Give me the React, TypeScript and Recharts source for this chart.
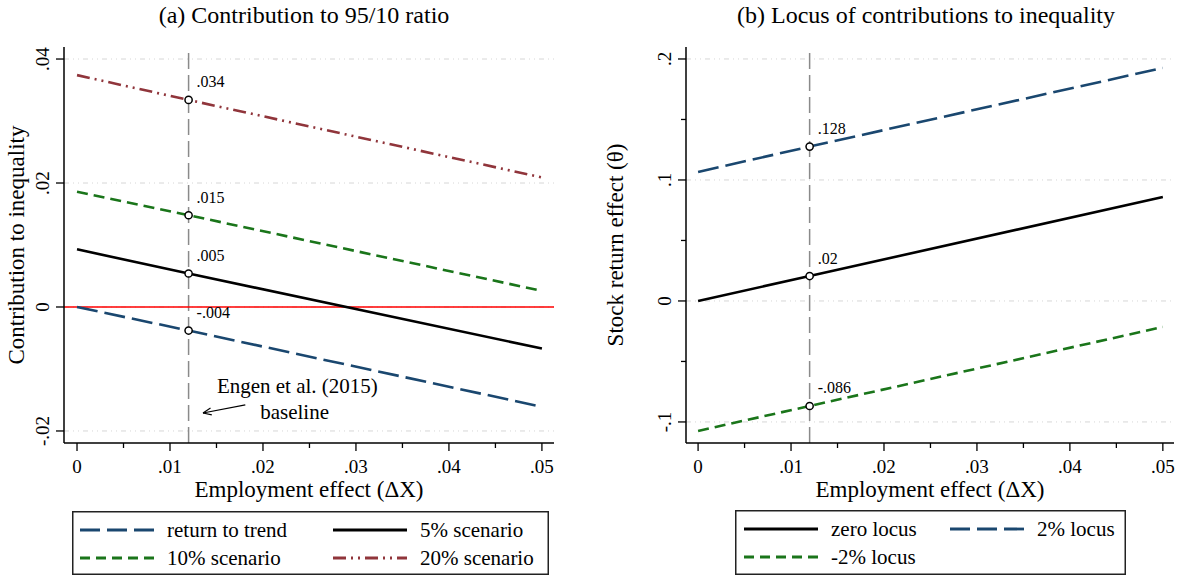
import { LineChart, Line, XAxis, YAxis, CartesianGrid, ReferenceLine, ReferenceDot, Label } from "recharts";

const FONT = "'Liberation Serif', 'DejaVu Serif', serif";

// x positions (employment effect)
const xVals = [0, 0.012, 0.05];
const baselineX = 0.012;

// panel (a): contribution to 95/10 ratio
const returnToTrend = [0, -0.0038, -0.0161];
const scenario5 = [0.0093, 0.0054, -0.0067];
const scenario10 = [0.0186, 0.0148, 0.0026];
const scenario20 = [0.0374, 0.0334, 0.0209];
const leftMarkLabels = ["-.004", ".005", ".015", ".034"];

// panel (b): locus of contributions
const zeroLocus = [0, 0.0206, 0.086];
const locusPlus2 = [0.1066, 0.1276, 0.1926];
const locusMinus2 = [-0.1074, -0.0868, -0.0215];
const rightMarkLabels = [".02", ".128", "-.086"];

const xTicks = [0, 0.01, 0.02, 0.03, 0.04, 0.05];
const xTickLabels = ["0", ".01", ".02", ".03", ".04", ".05"];
const xMinorTicks = [0.005, 0.015, 0.025, 0.035, 0.045];

const leftYTicks = [0.04, 0.02, 0, -0.02];
const leftYTickLabels = [".04", ".02", "0", "-.02"];
const rightYTicks = [0.2, 0.1, 0, -0.1];
const rightYTickLabels = [".2", ".1", "0", "-.1"];
const rightYMinorTicks = [0.15, 0.05, -0.05];

const NAVY = "#1a476f";
const MAROON = "#90353b";
const GREEN = "#1a751a";

const DASH_LONG = "21 7";
const DASH_SHORT = "11 6";
const DASH_DOTS = "13 5 2 5 2 5";

const leftData = xVals.map((x, i) => ({
  x,
  trend: returnToTrend[i],
  s5: scenario5[i],
  s10: scenario10[i],
  s20: scenario20[i],
}));

const rightData = xVals.map((x, i) => ({
  x,
  zero: zeroLocus[i],
  plus2: locusPlus2[i],
  minus2: locusMinus2[i],
}));

const near = (a: number, b: number) => Math.abs(a - b) < 1e-9;

function makeXTick(majors: number[], labels: string[]) {
  return (props: any) => {
    const { x, y, payload } = props;
    const idx = majors.findIndex((t) => near(t, payload.value));
    const major = idx >= 0;
    return (
      <g>
        <line x1={x} x2={x} y1={y} y2={y + (major ? 8 : 5)} stroke="#000" strokeWidth={1.3} />
        {major && (
          <text x={x} y={y + 23} textAnchor="middle" dominantBaseline="central" fontSize={19} fontFamily={FONT} fill="#000">
            {labels[idx]}
          </text>
        )}
      </g>
    );
  };
}

function makeYTick(majors: number[], labels: string[]) {
  return (props: any) => {
    const { x, y, payload } = props;
    const idx = majors.findIndex((t) => near(t, payload.value));
    const major = idx >= 0;
    const lx = x - 21;
    return (
      <g>
        <line x1={x - (major ? 8 : 5)} x2={x} y1={y} y2={y} stroke="#000" strokeWidth={1.3} />
        {major && (
          <text
            x={lx}
            y={y}
            transform={`rotate(-90 ${lx} ${y})`}
            textAnchor="middle"
            dominantBaseline="central"
            fontSize={19}
            fontFamily={FONT}
            fill="#000"
          >
            {labels[idx]}
          </text>
        )}
      </g>
    );
  };
}

function makeDot(label: string) {
  return (props: any) => {
    const { cx, cy, payload, index } = props;
    if (!near(payload.x, baselineX)) return <g key={`d${index}`} />;
    return (
      <g key={`d${index}`}>
        <circle cx={cx} cy={cy} r={3.6} fill="#fff" stroke="#000" strokeWidth={1.5} />
        <text x={cx + 8} y={cy - 18} dominantBaseline="central" fontSize={16} fontFamily={FONT} fill="#000">
          {label}
        </text>
      </g>
    );
  };
}

const xTitle = (props: any) => {
  const vb = props.viewBox;
  return (
    <text x={vb.x + vb.width / 2} y={vb.y + 46} textAnchor="middle" dominantBaseline="central" fontSize={23} fontFamily={FONT} fill="#000">
      Employment effect (ΔX)
    </text>
  );
};

const yTitle = (text: string, dx: number) => (props: any) => {
  const vb = props.viewBox;
  const cx = vb.x + dx;
  const cy = vb.y + vb.height / 2;
  return (
    <text x={cx} y={cy} transform={`rotate(-90 ${cx} ${cy})`} textAnchor="middle" dominantBaseline="central" fontSize={23} fontFamily={FONT} fill="#000">
      {text}
    </text>
  );
};

// arrow pointing at the baseline line
const arrowFrom = { x: 0.0181, y: -0.0158 };
const arrowTo = { x: 0.01355, y: -0.0171 };
const engenText = { x: 0.0237, y: -0.0127 };
const baselineText = { x: 0.0234, y: -0.0169 };

const ArrowShape = (props: any) => {
  const { x1, y1, x2, y2 } = props;
  const ang = Math.atan2(y2 - y1, x2 - x1);
  const len = 9;
  const a1 = ang + Math.PI - 0.4;
  const a2 = ang + Math.PI + 0.4;
  return (
    <g>
      <line x1={x1} y1={y1} x2={x2} y2={y2} stroke="#000" strokeWidth={1.2} />
      <line x1={x2} y1={y2} x2={x2 + len * Math.cos(a1)} y2={y2 + len * Math.sin(a1)} stroke="#000" strokeWidth={1.2} />
      <line x1={x2} y1={y2} x2={x2 + len * Math.cos(a2)} y2={y2 + len * Math.sin(a2)} stroke="#000" strokeWidth={1.2} />
    </g>
  );
};

const textShape = (text: string) => (props: any) => (
  <text x={props.cx} y={props.cy} textAnchor="middle" dominantBaseline="central" fontSize={21} fontFamily={FONT} fill="#000">
    {text}
  </text>
);

const allXTicks = [...xTicks, ...xMinorTicks].sort((a, b) => a - b);
const rightAllYTicks = [...rightYTicks, ...rightYMinorTicks].sort((a, b) => a - b);
const frameAxis = { stroke: "#666", strokeWidth: 2 };
const mainAxis = { stroke: "#000", strokeWidth: 1.5 };

type LegendItem = { label: string; color: string; dash?: string; col: number; row: number };

function LegendBox({ left, top, width, height, cols, items }: { left: number; top: number; width: number; height: number; cols: number[]; items: LegendItem[] }) {
  const rows = [19, 47];
  return (
    <svg style={{ position: "absolute", left, top }} width={width} height={height}>
      <rect x={0.75} y={0.75} width={width - 1.5} height={height - 1.5} fill="#fff" stroke="#222" strokeWidth={1.5} />
      {items.map((it) => {
        const sx = cols[it.col];
        const sy = rows[it.row];
        return (
          <g key={it.label}>
            <line x1={sx} x2={sx + 74} y1={sy} y2={sy} stroke={it.color} strokeWidth={2.8} strokeDasharray={it.dash} />
            <text x={sx + 87} y={sy} dominantBaseline="central" fontSize={21} fontFamily={FONT} fill="#000">
              {it.label}
            </text>
          </g>
        );
      })}
    </svg>
  );
}

export default function App() {
  return (
    <div style={{ position: "absolute", left: 0, top: 0, width: 1181, height: 577, background: "#fff", fontFamily: FONT }}>
      <div style={{ position: "absolute", left: 64, top: 1, width: 480, textAlign: "center", fontSize: 24, lineHeight: "28px" }}>
        (a) Contribution to 95/10 ratio
      </div>
      <div style={{ position: "absolute", left: 686, top: 1, width: 480, textAlign: "center", fontSize: 24, lineHeight: "28px" }}>
        (b) Locus of contributions to inequality
      </div>

      <div style={{ position: "absolute", left: 0, top: 0 }}>
        <LineChart width={580} height={577} data={leftData} margin={{ top: 47, right: 26, bottom: 74, left: 0 }}>
          <CartesianGrid vertical={false} horizontalValues={leftYTicks} stroke="#d6d6d6" strokeDasharray="5 4 1 4 1 4" />
          <XAxis
            dataKey="x"
            type="number"
            domain={[-0.0014, 0.0513]}
            ticks={allXTicks}
            interval={0}
            tick={makeXTick(xTicks, xTickLabels)}
            tickLine={false}
            tickSize={0}
            tickMargin={0}
            axisLine={mainAxis}
            height={60}
          >
            <Label content={xTitle} />
          </XAxis>
          <XAxis xAxisId="top" orientation="top" dataKey="x" type="number" domain={[-0.0014, 0.0513]} height={0} tick={false} tickLine={false} axisLine={frameAxis} />
          <YAxis
            type="number"
            domain={[-0.02194, 0.04194]}
            ticks={leftYTicks}
            interval={0}
            tick={makeYTick(leftYTicks, leftYTickLabels)}
            tickLine={false}
            tickSize={0}
            tickMargin={0}
            axisLine={mainAxis}
            width={64}
          >
            <Label content={yTitle("Contribution to inequality", 16)} />
          </YAxis>
          <YAxis yAxisId="right" orientation="right" type="number" domain={[-0.02194, 0.04194]} width={0} tick={false} tickLine={false} axisLine={frameAxis} />
          <ReferenceLine x={baselineX} stroke="#8a8a8a" strokeWidth={1.5} strokeDasharray="16 6" />
          <ReferenceLine y={0} stroke="#ff0000" strokeWidth={1.5} />
          <ReferenceLine segment={[arrowFrom, arrowTo]} shape={ArrowShape} />
          <ReferenceDot x={engenText.x} y={engenText.y} r={0} shape={textShape("Engen et al. (2015)")} />
          <ReferenceDot x={baselineText.x} y={baselineText.y} r={0} shape={textShape("baseline")} />
          <Line dataKey="trend" stroke={NAVY} strokeWidth={2.6} strokeDasharray={DASH_LONG} dot={makeDot(leftMarkLabels[0])} activeDot={false} isAnimationActive={false} />
          <Line dataKey="s5" stroke="#000" strokeWidth={2.6} dot={makeDot(leftMarkLabels[1])} activeDot={false} isAnimationActive={false} />
          <Line dataKey="s10" stroke={GREEN} strokeWidth={2.6} strokeDasharray={DASH_SHORT} dot={makeDot(leftMarkLabels[2])} activeDot={false} isAnimationActive={false} />
          <Line dataKey="s20" stroke={MAROON} strokeWidth={2.6} strokeDasharray={DASH_DOTS} dot={makeDot(leftMarkLabels[3])} activeDot={false} isAnimationActive={false} />
        </LineChart>
      </div>

      <div style={{ position: "absolute", left: 600, top: 0 }}>
        <LineChart width={581} height={577} data={rightData} margin={{ top: 47, right: 7, bottom: 74, left: 0 }}>
          <CartesianGrid vertical={false} horizontalValues={rightYTicks} stroke="#d6d6d6" strokeDasharray="5 4 1 4 1 4" />
          <XAxis
            dataKey="x"
            type="number"
            domain={[-0.0013, 0.0512]}
            ticks={allXTicks}
            interval={0}
            tick={makeXTick(xTicks, xTickLabels)}
            tickLine={false}
            tickSize={0}
            tickMargin={0}
            axisLine={mainAxis}
            height={60}
          >
            <Label content={xTitle} />
          </XAxis>
          <XAxis xAxisId="top" orientation="top" dataKey="x" type="number" domain={[-0.0013, 0.0512]} height={0} tick={false} tickLine={false} axisLine={frameAxis} />
          <YAxis
            type="number"
            domain={[-0.1174, 0.2099]}
            ticks={rightAllYTicks}
            interval={0}
            tick={makeYTick(rightYTicks, rightYTickLabels)}
            tickLine={false}
            tickSize={0}
            tickMargin={0}
            axisLine={mainAxis}
            width={86}
          >
            <Label content={yTitle("Stock return effect (θ)", 15)} />
          </YAxis>
          <YAxis yAxisId="right" orientation="right" type="number" domain={[-0.1174, 0.2099]} width={0} tick={false} tickLine={false} axisLine={frameAxis} />
          <ReferenceLine x={baselineX} stroke="#8a8a8a" strokeWidth={1.5} strokeDasharray="16 6" />
          <Line dataKey="zero" stroke="#000" strokeWidth={2.6} dot={makeDot(rightMarkLabels[0])} activeDot={false} isAnimationActive={false} />
          <Line dataKey="plus2" stroke={NAVY} strokeWidth={2.6} strokeDasharray={DASH_LONG} dot={makeDot(rightMarkLabels[1])} activeDot={false} isAnimationActive={false} />
          <Line dataKey="minus2" stroke={GREEN} strokeWidth={2.6} strokeDasharray={DASH_SHORT} dot={makeDot(rightMarkLabels[2])} activeDot={false} isAnimationActive={false} />
        </LineChart>
      </div>

      <LegendBox
        left={72}
        top={511}
        width={477}
        height={64}
        cols={[8, 261]}
        items={[
          { label: "return to trend", color: NAVY, dash: "20 7", col: 0, row: 0 },
          { label: "5% scenario", color: "#000", col: 1, row: 0 },
          { label: "10% scenario", color: GREEN, dash: "10 6", col: 0, row: 1 },
          { label: "20% scenario", color: MAROON, dash: DASH_DOTS, col: 1, row: 1 },
        ]}
      />
      <LegendBox
        left={735}
        top={510}
        width={391}
        height={65}
        cols={[9, 215]}
        items={[
          { label: "zero locus", color: "#000", col: 0, row: 0 },
          { label: "2% locus", color: NAVY, dash: "20 7", col: 1, row: 0 },
          { label: "-2% locus", color: GREEN, dash: "10 6", col: 0, row: 1 },
        ]}
      />
    </div>
  );
}
